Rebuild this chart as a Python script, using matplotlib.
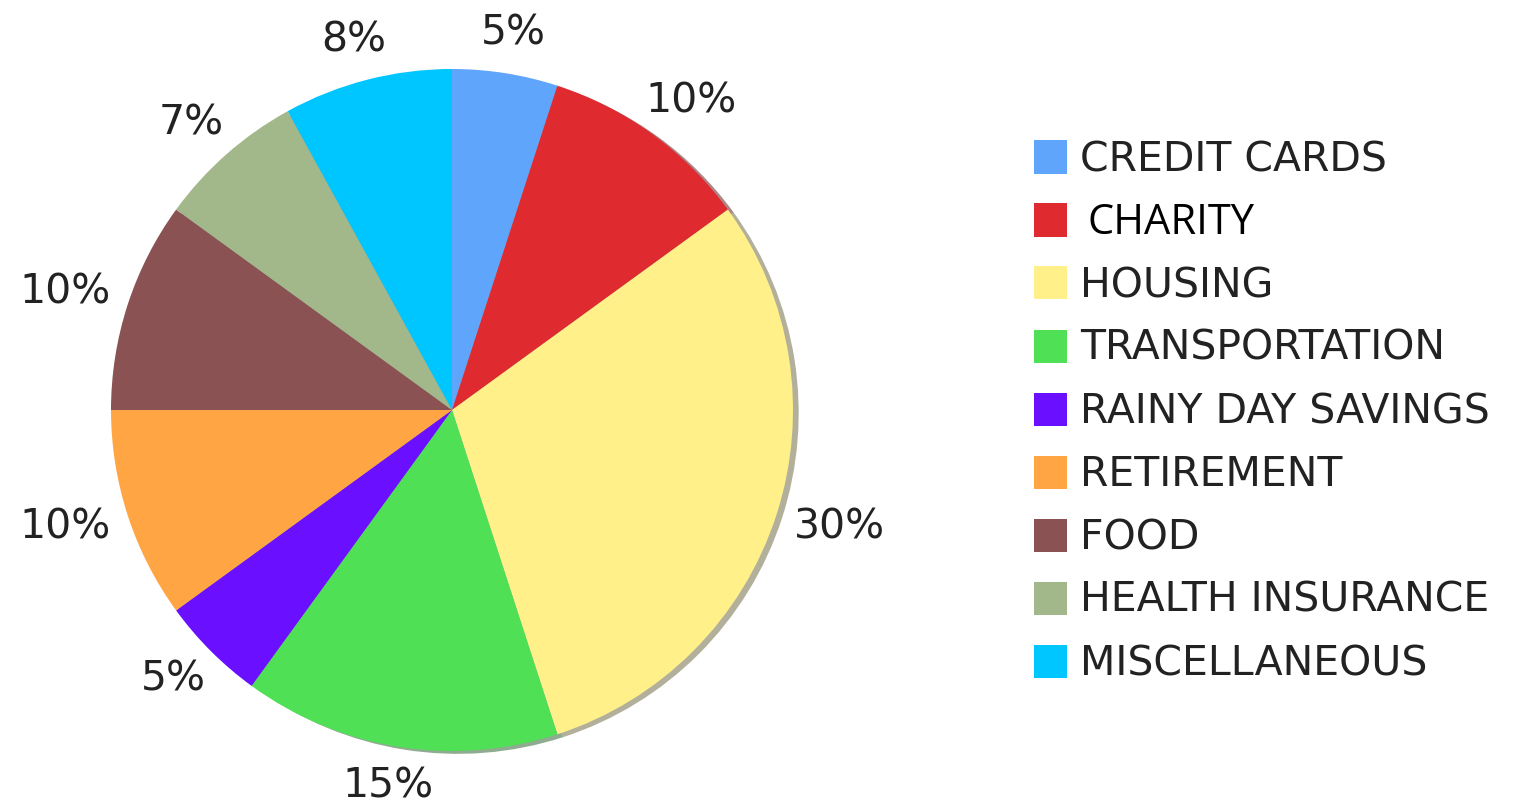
#!/usr/bin/env python3
"""Budget pie chart with a hand-placed legend on the right."""

import matplotlib
matplotlib.use("Agg")
import matplotlib.pyplot as plt
import numpy as np
from matplotlib.patches import Rectangle

CATEGORIES = [
    "CREDIT CARDS", "CHARITY", "HOUSING", "TRANSPORTATION",
    "RAINY DAY SAVINGS", "RETIREMENT", "FOOD", "HEALTH INSURANCE",
    "MISCELLANEOUS",
]
SHARES = [5, 10, 30, 15, 5, 10, 10, 7, 8]
COLORS = [
    "#5ea5fb", "#df2a30", "#fff08a", "#4fe055", "#6a0fff",
    "#ffa544", "#8a5252", "#a2b88a", "#00c6ff",
]

W, H = 1534, 809
fig = plt.figure(figsize=(W / 100, H / 100), dpi=100)

# pie axes: centre (452, 410) px, radius 341 px
cx, cy, r = 452, 410, 341
ax = fig.add_axes([(cx - r) / W, (H - cy - r) / H, 2 * r / W, 2 * r / H])
wedges, _, pcts = ax.pie(
    SHARES,
    colors=COLORS,
    startangle=90,
    counterclock=False,
    autopct=lambda p: f"{p:.0f}%",
    pctdistance=1.2,
    shadow={"ox": 0.012, "oy": -0.006, "shade": 0.6},
    textprops={"fontsize": 29.5, "color": "#222222", "family": "DejaVu Sans"},
    wedgeprops={"linewidth": 0},
)
ax.set_xlim(-1, 1)
ax.set_ylim(-1, 1)
ax.set_aspect("equal")
ax.axis("off")

# push each percentage out so its box sits a fixed gap off the rim
renderer = fig.canvas.get_renderer()
gap = 0.06
for w, t in zip(wedges, pcts):
    theta = np.deg2rad((w.theta1 + w.theta2) / 2)
    bb = t.get_window_extent(renderer)
    hw, hh = bb.width / 2 / r, bb.height / 2 / r
    ca, sa = np.cos(theta), np.sin(theta)
    dist = 1 + gap
    t.set_position((dist * ca + hw * ca, dist * sa + hh * sa))
    t.set_ha("center")
    t.set_va("center")

# legend
row0, step = 157, 63
for i, (name, color) in enumerate(zip(CATEGORIES, COLORS)):
    yc = row0 + i * step
    fig.add_artist(Rectangle((1034 / W, (H - yc - 16.5) / H), 33 / W, 33 / H,
                             transform=fig.transFigure, facecolor=color,
                             edgecolor="none"))
    ty = (H - yc - 3) / H
    if name == "CHARITY":
        fig.text(1087 / W, ty, name, fontsize=30, family="Open Sans",
                 color="black", va="center", ha="left")
    else:
        fig.text(1080 / W, ty, name, fontsize=29.5, family="DejaVu Sans",
                 color="#222222", va="center", ha="left")

fig.savefig("out.png", dpi=100)
